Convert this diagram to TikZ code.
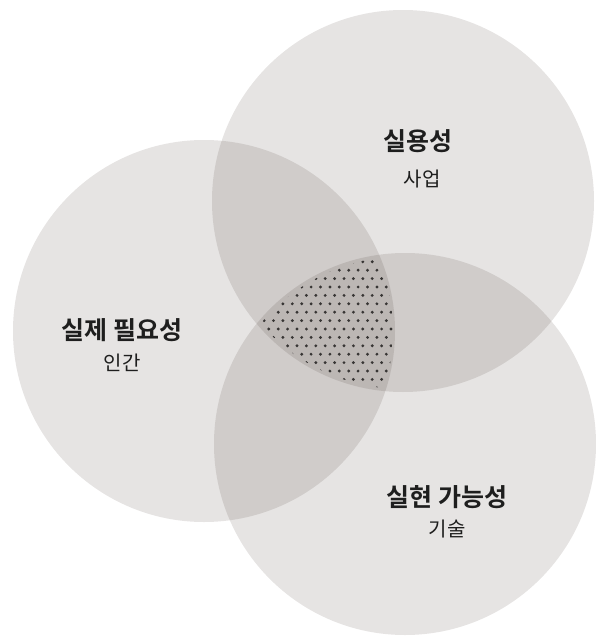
\documentclass[tikz,border=0pt]{standalone}
\usepackage{fontspec}
\newfontfamily\kr{Noto Sans CJK KR}
\newfontfamily\krb{Noto Sans CJK KR Bold}
\definecolor{circc}{RGB}{47,30,22}
\definecolor{dotc}{RGB}{55,53,52}
\definecolor{txt}{RGB}{30,30,30}
\tikzset{
  venn/.style={circle, fill=circc, fill opacity=0.12, draw=none, minimum size=382pt, inner sep=0pt},
  title/.style={font=\krb\fontsize{25}{28}\selectfont, text=txt, inner sep=0pt},
  sub/.style={font=\kr\fontsize{20}{23}\selectfont, text=txt, inner sep=0pt}
}
\begin{document}
\begin{tikzpicture}[x=1pt,y=-1pt]
\useasboundingbox (0,0) rectangle (595,637);
\node[venn] (biz) at (403,201) {};
\node[venn] (hum) at (204,331) {};
\node[venn] (tech) at (405,444) {};
\begin{scope}
  \clip (403,201) circle[radius=188pt];
  \clip (204,331) circle[radius=189pt];
  \clip (405,444) circle[radius=188pt];
  \foreach \r in {0,...,18} {
    \foreach \c in {0,...,17} {
      \pgfmathsetmacro{\xx}{250+\c*9.4+mod(\r,2)*4.7}
      \pgfmathsetmacro{\yy}{245+\r*8.4}
      \fill[dotc] (\xx,\yy) circle[radius=1.6pt];
    }
  }
\end{scope}
\node[title] (bizt) at (418,141) {실용성};
\node[sub] (bizs) at (422,179) {사업};
\node[title] (humt) at (122,330) {실제 필요성};
\node[sub] (hums) at (122,363) {인간};
\node[title] (techt) at (447,497) {실현 가능성};
\node[sub] (techs) at (447,529) {기술};
\end{tikzpicture}
\end{document}
